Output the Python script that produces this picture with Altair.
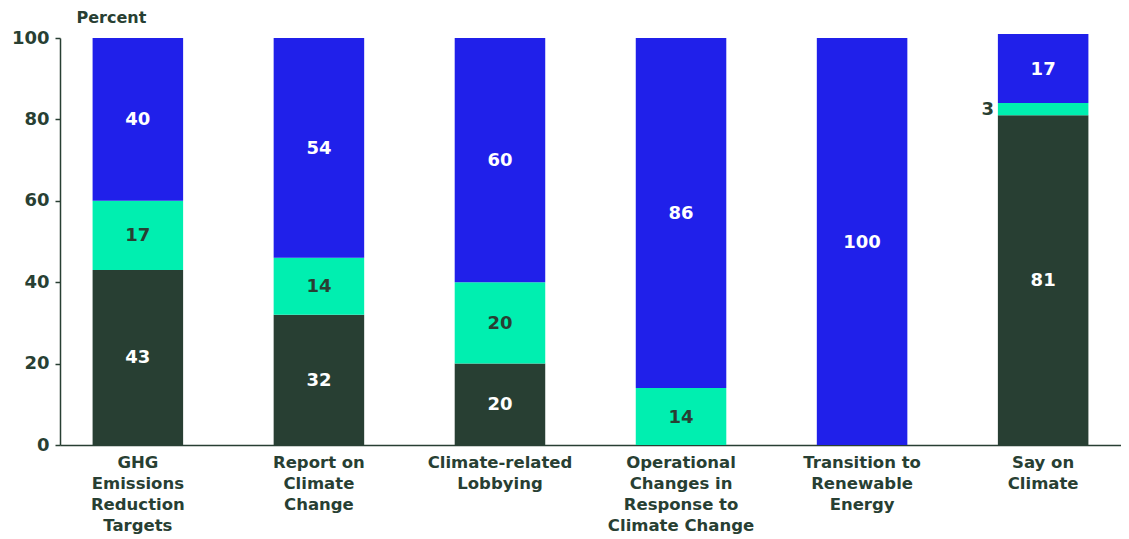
import altair as alt
import pandas as pd

categories = [
    "GHG|Emissions|Reduction|Targets",
    "Report on|Climate|Change",
    "Climate-related|Lobbying",
    "Operational|Changes in|Response to|Climate Change",
    "Transition to|Renewable|Energy",
    "Say on|Climate",
]
series = ["Segment 1", "Segment 2", "Segment 3"]
seg1 = [43, 32, 20, 0, 0, 81]
seg2 = [17, 14, 20, 14, 0, 3]
seg3 = [40, 54, 60, 86, 100, 17]

colors = ["#283f33", "#00efb0", "#2020ea"]
DARK = "#283f33"
FONT = "DejaVu Sans"

rows = []
for i, c in enumerate(categories):
    for j, (s, vals) in enumerate(zip(series, [seg1, seg2, seg3])):
        rows.append({"category": c, "series": s, "order": j, "value": vals[i]})
df = pd.DataFrame(rows)

base = alt.Chart(df).transform_stack(
    stack="value", groupby=["category"], as_=["y0", "y1"],
    sort=[alt.SortField("order", order="ascending")]
).transform_calculate(mid="(datum.y0 + datum.y1) / 2")

x_enc = alt.X(
    "category:N", sort=categories, title=None,
    scale=alt.Scale(paddingInner=0.5, paddingOuter=0.18),
    axis=alt.Axis(
        labelAngle=0, labelExpr="split(datum.value, '|')", ticks=False,
        labelFont=FONT, labelFontWeight="bold", labelFontSize=16.5,
        labelColor=DARK, labelLineHeight=21, labelPadding=9,
        domainColor=DARK, domainWidth=1.5, labelBaseline="top", grid=False,
    ),
)

bars = base.mark_bar().encode(
    x=x_enc,
    y=alt.Y(
        "y0:Q", title="Percent",
        scale=alt.Scale(domain=[0, 100], nice=False),
        axis=alt.Axis(
            values=[0, 20, 40, 60, 80, 100], grid=False, tickSize=5,
            tickColor=DARK, domainColor=DARK, domainWidth=1.5, tickWidth=1.5,
            labelFont=FONT, labelFontWeight="bold", labelFontSize=18,
            labelColor=DARK, labelPadding=6,
            titleAngle=0, titleX=16, titleY=-16, titleAlign="left",
            titleBaseline="alphabetic", titleFont=FONT, titleFontWeight="bold",
            titleFontSize=16, titleColor=DARK,
        ),
    ),
    y2="y1:Q",
    color=alt.Color("series:N", scale=alt.Scale(domain=series, range=colors), legend=None),
)

inside = base.transform_filter("datum.value >= 5").mark_text(
    font=FONT, fontWeight="bold", fontSize=18, baseline="middle", align="center", dy=1
).encode(
    x=alt.X("category:N", sort=categories),
    y=alt.Y("mid:Q"),
    text=alt.Text("value:Q"),
    color=alt.condition(alt.datum.series == "Segment 2", alt.value(DARK), alt.value("white")),
)

outside = base.transform_filter("datum.value > 0 && datum.value < 5").mark_text(
    font=FONT, fontWeight="bold", fontSize=18, baseline="middle", align="right",
    dx=-49, dy=1, color=DARK,
).encode(
    x=alt.X("category:N", sort=categories),
    y=alt.Y("mid:Q"),
    text=alt.Text("value:Q"),
)

chart = alt.layer(bars, inside, outside).properties(
    width=1061, height=407,
    autosize=alt.AutoSizeParams(type="none"),
    padding={"left": 52, "top": 30, "right": 0, "bottom": 94},
    background="white",
).configure_view(stroke=None).configure_axis(grid=False)

chart.save("out.html", embed_options={"renderer": "svg", "actions": False})
